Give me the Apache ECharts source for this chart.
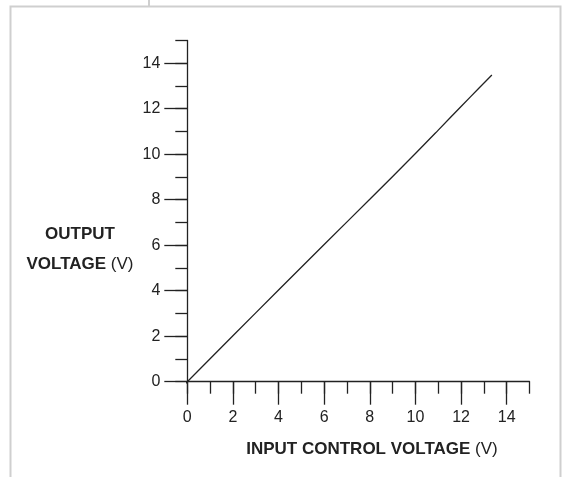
<!DOCTYPE html>
<html>
<head>
<meta charset="utf-8">
<script src="https://cdn.jsdelivr.net/npm/echarts@6/dist/echarts.min.js"></script>
<style>html,body{margin:0;padding:0;background:#fff}#c{width:565px;height:477px}</style>
</head>
<body>
<div id="c"></div>
<script>
const inputVoltage  = [-0.18, 0, 2, 4, 6, 8, 10, 11, 12, 12.8, 13.35];
const outputVoltage = [-0.19, 0, 2.02, 4.03, 6.03, 8.02, 10.03, 11.06, 12.1, 12.92, 13.48];
const axisMax = 15;        // axis line end (minor tick)
const labelMax = 14;       // last labelled tick
const xTitle = 'INPUT CONTROL VOLTAGE';
const yTitleLines = ['OUTPUT', 'VOLTAGE'];
const unit = '(V)';

const ink = '#222';
const font = '"Liberation Sans", Arial, Helvetica, sans-serif';
const L = 187.3, R = 35.5, T = 40.5, B = 95.3;
const unitPx = (565 - L - R) / axisMax;
const unitPy = (477 - T - B) / axisMax;
const titleSize = 17;

const chart = echarts.init(document.getElementById('c'), null, {renderer: 'canvas'});
chart.setOption({
  animation: false,
  backgroundColor: '#fff',
  title: {
    text: '{b|' + yTitleLines[0] + '}\n{b|' + yTitleLines[1] + '} {r|' + unit + '}',
    left: 75, top: 214, textAlign: 'center',
    textStyle: {
      fontFamily: font, fontSize: titleSize, color: ink, lineHeight: 30,
      rich: {
        b: {fontFamily: font, fontSize: titleSize, fontWeight: 'bold', color: ink, lineHeight: 30},
        r: {fontFamily: font, fontSize: titleSize, fontWeight: 'normal', color: ink, lineHeight: 30}
      }
    }
  },
  graphic: [
    {type: 'rect', shape: {x: 10.5, y: 6.5, width: 550, height: 500}, style: {fill: 'none', stroke: '#cfcfcf', lineWidth: 2}, silent: true},
    {type: 'line', shape: {x1: 149, y1: 0, x2: 149, y2: 6}, style: {stroke: '#cfcfcf', lineWidth: 2}, silent: true}
  ],
  grid: [
    {left: L, right: R, top: T, bottom: B},
    {left: L, right: R + unitPx * (axisMax - labelMax), top: T + unitPy * (axisMax - labelMax), bottom: B}
  ],
  xAxis: [
    {type: 'value', gridIndex: 0, min: 0, max: axisMax, interval: 1,
     axisLine: {show: true, onZero: false, lineStyle: {color: ink, width: 1.3}},
     axisTick: {show: true, length: 12, lineStyle: {color: ink, width: 1.3}},
     axisLabel: {show: false}, splitLine: {show: false}},
    {type: 'value', gridIndex: 1, min: 0, max: labelMax, interval: 2,
     axisLine: {show: false, onZero: false},
     axisTick: {show: true, length: 23, lineStyle: {color: ink, width: 1.3}},
     axisLabel: {show: true, margin: 28, fontFamily: font, fontSize: 16, color: ink},
     splitLine: {show: false},
     name: '{b|' + xTitle + '} {r|' + unit + '}', nameLocation: 'middle', nameGap: 59,
     nameTextStyle: {
       fontFamily: font, fontSize: titleSize, color: ink, padding: [0, 0, 0, 50],
       rich: {
         b: {fontFamily: font, fontSize: titleSize, fontWeight: 'bold', color: ink},
         r: {fontFamily: font, fontSize: titleSize, fontWeight: 'normal', color: ink}
       }
     }}
  ],
  yAxis: [
    {type: 'value', gridIndex: 0, min: 0, max: axisMax, interval: 1,
     axisLine: {show: true, onZero: false, lineStyle: {color: ink, width: 1.3}},
     axisTick: {show: true, length: 12, lineStyle: {color: ink, width: 1.3}},
     axisLabel: {show: false}, splitLine: {show: false}},
    {type: 'value', gridIndex: 1, min: 0, max: labelMax, interval: 2,
     axisLine: {show: false, onZero: false},
     axisTick: {show: true, length: 23, lineStyle: {color: ink, width: 1.3}},
     axisLabel: {show: true, margin: 27, fontFamily: font, fontSize: 16, color: ink},
     splitLine: {show: false}}
  ],
  series: [{
    type: 'line', xAxisIndex: 0, yAxisIndex: 0,
    data: inputVoltage.map((x, i) => [x, outputVoltage[i]]),
    smooth: 0.3, showSymbol: false, symbol: 'none', clip: false,
    lineStyle: {color: ink, width: 1.3}
  }]
});
</script>
</body>
</html>
